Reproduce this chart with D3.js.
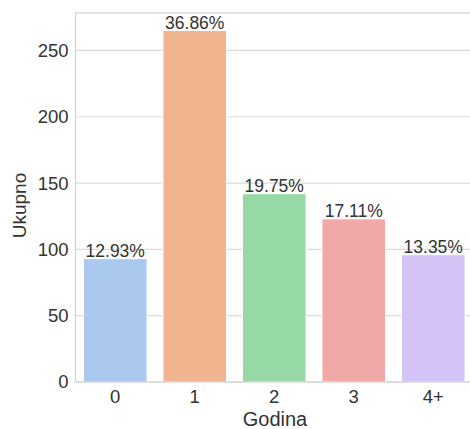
<!DOCTYPE html>
<html><head><meta charset="utf-8">
<script src="https://cdn.jsdelivr.net/npm/d3@7"></script>
<style>body{margin:0;background:#fff}svg{display:block}text{font-family:"Liberation Sans",Arial,sans-serif;fill:#262626}</style>
</head><body>
<svg id="c" width="470" height="429"></svg>
<script>
const categories = ["0", "1", "2", "3", "4+"];
const values = [93, 265, 142, 123, 96];
const labels = ["12.93%", "36.86%", "19.75%", "17.11%", "13.35%"];
const colors = ["#abc9ee", "#f0b48e", "#96d9a6", "#f1a8a6", "#d3c3f6"];
const yTicks = [0, 50, 100, 150, 200, 250];

const svg = d3.select("#c");
const m = {l: 75.5, t: 13, r: 473, b: 382};
const x = d3.scaleBand().domain(categories).range([m.l, m.r]).paddingInner(0.2).paddingOuter(0.1);
const y = d3.scaleLinear().domain([0, 278.25]).range([m.b, m.t]);

// grid
svg.append("g").selectAll("line").data(yTicks).join("line")
  .attr("x1", m.l).attr("x2", m.r).attr("y1", d => y(d)).attr("y2", d => y(d))
  .attr("stroke", "#dcdcdc").attr("stroke-width", 1.2);

// bars
svg.append("g").selectAll("rect").data(values).join("rect")
  .attr("x", (d, i) => x(categories[i])).attr("width", x.bandwidth())
  .attr("y", d => y(d)).attr("height", d => y(0) - y(d))
  .attr("fill", (d, i) => colors[i]).attr("stroke", "#fff").attr("stroke-width", 1);

// frame
svg.append("rect").attr("x", m.l).attr("y", m.t).attr("width", m.r - m.l).attr("height", m.b - m.t)
  .attr("fill", "none").attr("stroke", "#d0d0d0").attr("stroke-width", 1.2);

// annotations
svg.append("g").selectAll("text").data(values).join("text")
  .attr("x", (d, i) => x(categories[i]) + x.bandwidth() / 2).attr("y", d => y(d) - 2)
  .attr("text-anchor", "middle").attr("font-size", 17.5).style("fill", "#333")
  .text((d, i) => labels[i]);

// y axis
const yAxis = d3.axisLeft(y).tickValues(yTicks).tickSize(0).tickPadding(7);
const gy = svg.append("g").attr("transform", `translate(${m.l},0)`).call(yAxis);
gy.select(".domain").remove();
gy.selectAll("text").attr("font-size", 18.5).style("fill", "#333");

// x axis
const xAxis = d3.axisBottom(x).tickSize(0).tickPadding(8);
const gx = svg.append("g").attr("transform", `translate(0,${m.b})`).call(xAxis);
gx.select(".domain").remove();
gx.selectAll("text").attr("font-size", 18.5).style("fill", "#333");

svg.append("text").attr("x", 275).attr("y", 426).attr("text-anchor", "middle")
  .attr("font-size", 20).style("fill", "#333").text("Godina");
svg.append("text").attr("transform", `translate(26,${(m.t + m.b) / 2 + 8}) rotate(-90)`)
  .attr("text-anchor", "middle").attr("font-size", 19).style("fill", "#333").text("Ukupno");
</script>
</body></html>
